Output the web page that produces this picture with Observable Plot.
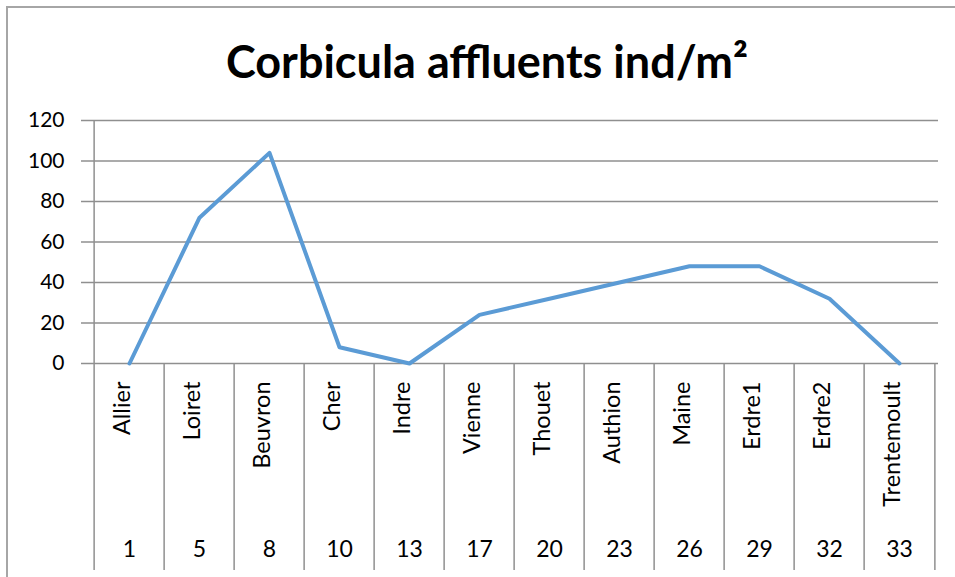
<!DOCTYPE html>
<html>
<head>
<meta charset="utf-8">
<script src="https://cdn.jsdelivr.net/npm/d3@7"></script>
<script src="https://cdn.jsdelivr.net/npm/@observablehq/plot@0.6"></script>
<style>
  html, body { margin: 0; padding: 0; background: #fff; }
  #wrap { position: relative; width: 955px; height: 577px; overflow: hidden; }
  #border { position: absolute; left: 6px; top: 6px; width: 1000px; height: 1000px;
            border-top: 2px solid #a6a6a6; border-left: 2px solid #a6a6a6; }
  #chart { position: absolute; left: 0; top: 0; }
</style>
</head>
<body>
<div id="wrap"><div id="border"></div><div id="chart"></div></div>
<script>
const title = "Corbicula affluents ind/m²";
const sites = ["Allier", "Loiret", "Beuvron", "Cher", "Indre", "Vienne", "Thouet", "Authion", "Maine", "Erdre1", "Erdre2", "Trentemoult"];
const siteNumbers = ["1", "5", "8", "10", "13", "17", "20", "23", "26", "29", "32", "33"];
const density = [0, 72, 104, 8, 0, 24, 32, 40, 48, 48, 32, 0];
const yTicks = [0, 20, 40, 60, 80, 100, 120];

const W = 955, H = 577;
const mL = 89, mR = 17, mT = 120, mB = 214;
const step = (W - mL - mR) / sites.length;

const data = sites.map((s, i) => ({site: s, num: siteNumbers[i], value: density[i], first: i === 0}));
const lastSite = [sites[sites.length - 1]];

const chart = Plot.plot({
  width: W,
  height: H,
  marginLeft: mL,
  marginRight: mR,
  marginTop: mT,
  marginBottom: mB,
  style: {fontFamily: "Lato, 'Open Sans', sans-serif", fontSize: "21px", color: "#000", background: "transparent"},
  x: {type: "point", domain: sites, padding: 0.5, axis: null},
  y: {domain: [0, 120], ticks: yTicks, tickSize: 0, tickPadding: 25, label: null, tickFormat: d => String(d)},
  marks: [
    Plot.ruleY(yTicks, {stroke: "#8f8f8f", strokeWidth: 1.5, insetLeft: -8}),
    // category separators (left edge of each category)
    Plot.ruleX(data, {x: "site", y1: d => d.first ? 120 : 0, y2: 0, insetBottom: -207, dx: -step / 2, stroke: "#8f8f8f", strokeWidth: 1.5}),
    Plot.ruleX(lastSite, {x: d => d, y1: 0, y2: 0, insetBottom: -207, dx: step / 2, stroke: "#8f8f8f", strokeWidth: 1.5}),
    Plot.line(data, {x: "site", y: "value", stroke: "#5b9bd5", strokeWidth: 4, strokeLinejoin: "round", strokeLinecap: "round"}),
    Plot.text(data, {x: "site", text: "site", frameAnchor: "bottom", dy: 18, rotate: -90, textAnchor: "end", fontSize: 23.5, fill: "#000"}),
    Plot.text(data, {x: "site", text: "num", frameAnchor: "bottom", dy: 193, fontSize: 23, fill: "#000"}),
    Plot.text([title], {text: d => d, frameAnchor: "top", dy: -74, dx: -27, fontSize: 45, fontWeight: "bold", fill: "#000"})
  ]
});
document.getElementById("chart").appendChild(chart);
</script>
</body>
</html>
